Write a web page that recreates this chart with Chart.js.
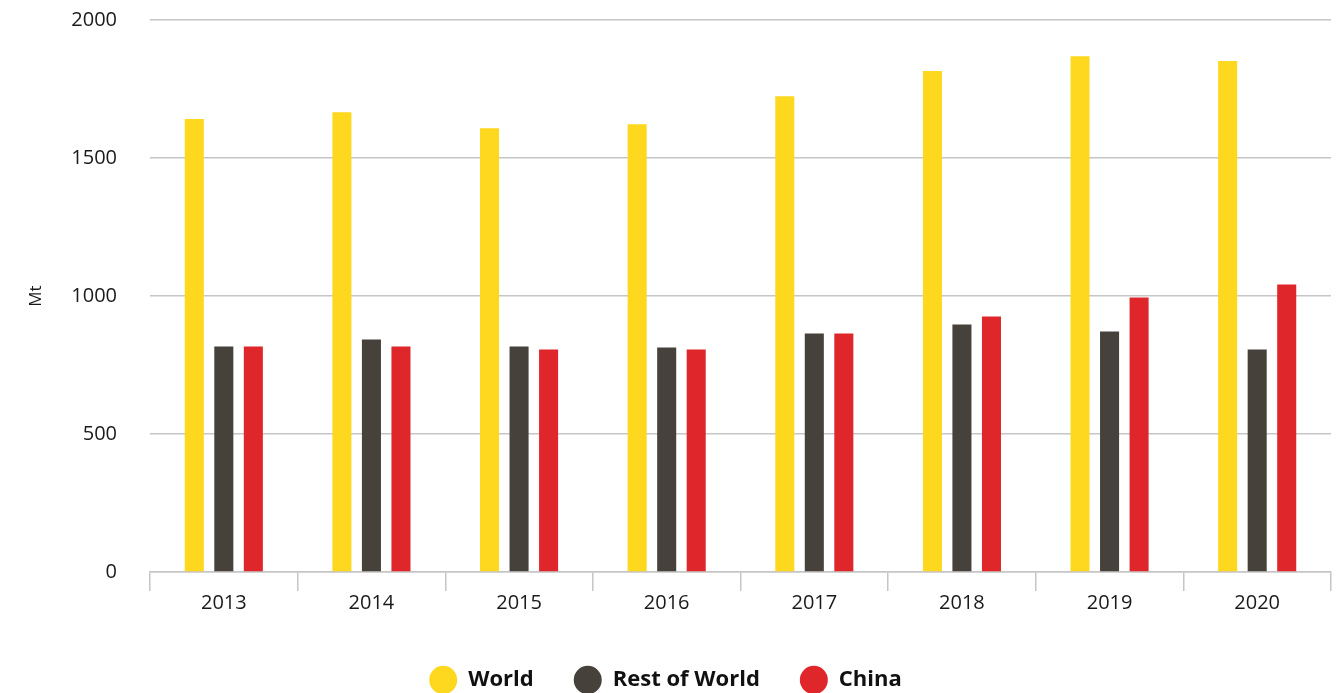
<!DOCTYPE html>
<html>
<head>
<meta charset="utf-8">
<script src="https://cdn.jsdelivr.net/npm/chart.js@4/dist/chart.umd.min.js"></script>
<style>
    html, body { margin: 0; padding: 0; background: #fff; }
    #wrap { width: 1342px; height: 693px; }
</style>
</head>
<body>
<div id="wrap"><canvas id="coalChart"></canvas></div>
<script>
// Values (Mt)
const years = ["2013", "2014", "2015", "2016", "2017", "2018", "2019", "2020"];
const world = [1641, 1666, 1608, 1622, 1724, 1815, 1869, 1851];
const restOfWorld = [817, 842, 817, 813, 864, 897, 871, 806];
const china = [817, 817, 806, 806, 864, 926, 995, 1042];
const yTicks = [0, 500, 1000, 1500, 2000];

const gridGrey = "#c6c6c6";
const textColor = "#1a1a1a";

document.addEventListener("DOMContentLoaded", function () {
    const ctx = document.getElementById("coalChart").getContext("2d");

    new Chart(ctx, {
        type: "bar",
        data: {
            labels: years,
            datasets: [
                { label: "World", data: world, backgroundColor: "#fdd81f" },
                { label: "Rest of World", data: restOfWorld, backgroundColor: "#46413a" },
                { label: "China", data: china, backgroundColor: "#df262b" }
            ]
        },
        options: {
            responsive: true,
            maintainAspectRatio: false,
            animation: false,
            datasets: {
                bar: { categoryPercentage: 0.6, barPercentage: 0.645 }
            },
            layout: { padding: { top: 20, right: 11, left: 0, bottom: -8 } },
            plugins: {
                tooltip: { enabled: false },
                legend: {
                    position: "bottom",
                    labels: {
                        usePointStyle: true,
                        pointStyle: "circle",
                        boxHeight: 20,
                        pointStyleWidth: 28,
                        padding: 40,
                        color: "#111",
                        font: { family: "Open Sans", size: 22, weight: "bold" }
                    }
                }
            },
            scales: {
                x: {
                    grid: {
                        display: true,
                        drawOnChartArea: false,
                        drawTicks: true,
                        tickLength: 19,
                        color: gridGrey,
                        lineWidth: 1.5
                    },
                    border: { display: true, color: gridGrey, width: 1.5 },
                    ticks: {
                        padding: 0,
                        color: textColor,
                        font: { family: "Open Sans", size: 20 }
                    },
                    afterFit: function (scale) { scale.height = 57; }
                },
                y: {
                    min: 0,
                    max: 2000,
                    afterBuildTicks: function (scale) {
                        scale.ticks = yTicks.map(v => ({ value: v }));
                    },
                    afterFit: function (scale) { scale.width = 150; },
                    grid: {
                        color: gridGrey,
                        lineWidth: 1.5,
                        drawTicks: true,
                        tickLength: 33,
                        tickColor: "rgba(0,0,0,0)"
                    },
                    border: { display: false },
                    ticks: {
                        padding: 0,
                        color: textColor,
                        font: { family: "Open Sans", size: 20 },
                        callback: function (value) { return String(value); }
                    },
                    title: {
                        display: true,
                        text: "Mt",
                        color: textColor,
                        padding: { top: 26, bottom: 0 },
                        font: { family: "Open Sans", size: 17 }
                    }
                }
            }
        }
    });
});
</script>
</body>
</html>
